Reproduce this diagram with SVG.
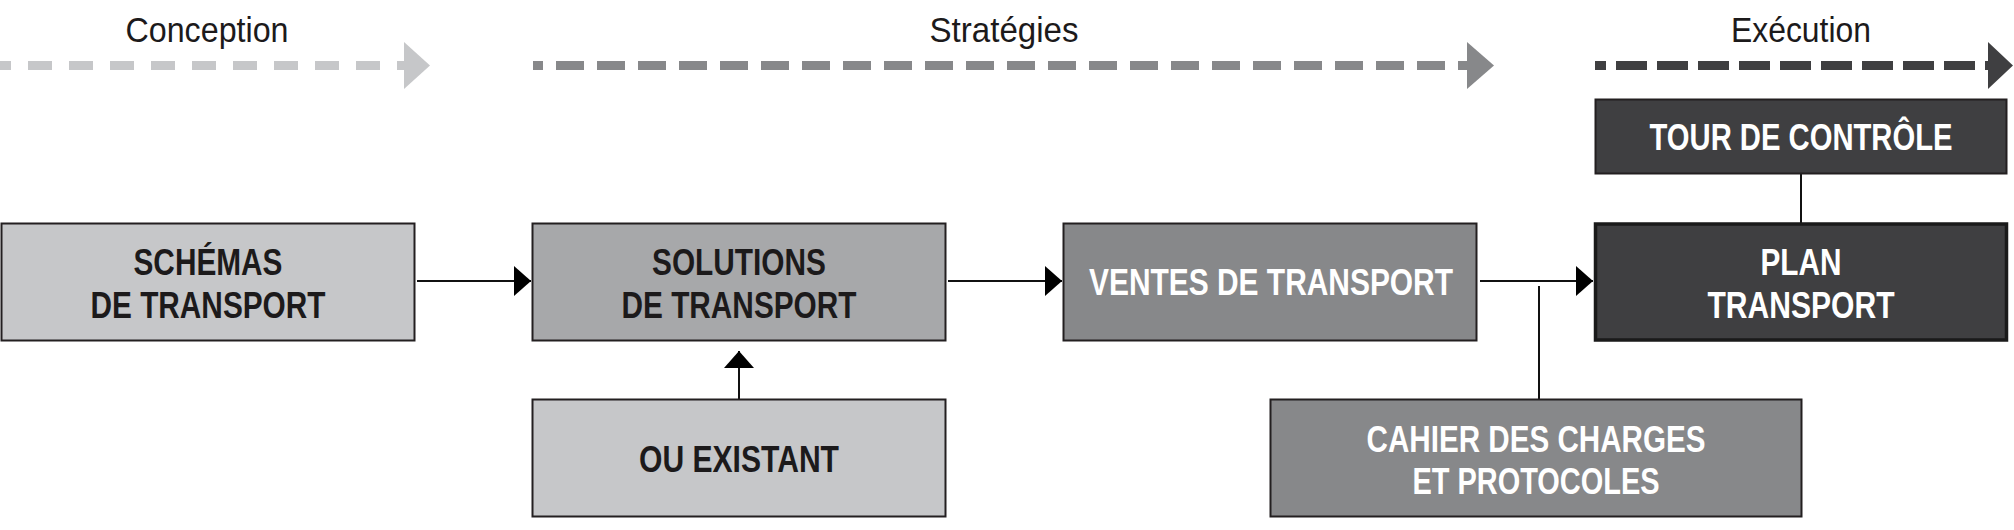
<svg xmlns="http://www.w3.org/2000/svg" width="2014" height="530" viewBox="0 0 2014 530">
<style>
.box{stroke:#231f20;stroke-width:2}
.lbl{font-family:"Liberation Sans",Arial,sans-serif;font-weight:bold;font-size:36px;text-anchor:middle}
.dk{fill:#1c1a1b}
.wt{fill:#ffffff}
.hdr{font-family:"Liberation Sans",Arial,sans-serif;font-size:35px;text-anchor:middle;fill:#1c1a1b}
.con{stroke:#111;stroke-width:2;fill:none}
.phase{stroke-width:9;fill:none}
</style>
<defs>
<marker id="ah" markerUnits="userSpaceOnUse" markerWidth="17" markerHeight="30" refX="17" refY="15" orient="auto" viewBox="0 0 17 30">
<path d="M0,0 L17,15 L0,30 Z" fill="#000"/>
</marker>
</defs>
<g id="phases">
<text class="hdr" x="207" y="42" textLength="163" lengthAdjust="spacingAndGlyphs">Conception</text>
<line class="phase" x1="0" y1="65.5" x2="404" y2="65.5" stroke="#c6c7c9" stroke-dasharray="24 17" stroke-dashoffset="13"/>
<polygon points="404,42 430,65.5 404,89" fill="#c6c7c9"/>
<text class="hdr" x="1004" y="42" textLength="149" lengthAdjust="spacingAndGlyphs">Stratégies</text>
<line class="phase" x1="533" y1="65.5" x2="1467" y2="65.5" stroke="#87888a" stroke-dasharray="28 13" stroke-dashoffset="18"/>
<polygon points="1467,42 1494,65.5 1467,89" fill="#87888a"/>
<text class="hdr" x="1801" y="42" textLength="140" lengthAdjust="spacingAndGlyphs">Exécution</text>
<line class="phase" x1="1595" y1="65.5" x2="1988" y2="65.5" stroke="#3f3f41" stroke-dasharray="31 10" stroke-dashoffset="20"/>
<polygon points="1988,42 2013,65.5 1988,89" fill="#3f3f41"/>
</g>
<g id="connectors">
<line class="con" x1="417" y1="281" x2="531" y2="281" marker-end="url(#ah)"/>
<line class="con" x1="948" y1="281" x2="1062" y2="281" marker-end="url(#ah)"/>
<line class="con" x1="1480" y1="281" x2="1593" y2="281" marker-end="url(#ah)"/>
<line class="con" x1="739" y1="399" x2="739" y2="351" marker-end="url(#ah)"/>
<line class="con" x1="1539" y1="286" x2="1539" y2="399"/>
<line class="con" x1="1801" y1="174" x2="1801" y2="223"/>
</g>
<g id="schemas">
<rect class="box" x="1.5" y="223.5" width="413" height="117" fill="#c6c7c9"/>
<text class="lbl dk" x="208" y="275" textLength="149" lengthAdjust="spacingAndGlyphs">SCHÉMAS</text>
<text class="lbl dk" x="208" y="318" textLength="235" lengthAdjust="spacingAndGlyphs">DE TRANSPORT</text>
</g>
<g id="solutions">
<rect class="box" x="532.5" y="223.5" width="413" height="117" fill="#a7a8aa"/>
<text class="lbl dk" x="739" y="275" textLength="174" lengthAdjust="spacingAndGlyphs">SOLUTIONS</text>
<text class="lbl dk" x="739" y="318" textLength="235" lengthAdjust="spacingAndGlyphs">DE TRANSPORT</text>
</g>
<g id="ventes">
<rect class="box" x="1063.5" y="223.5" width="413" height="117" fill="#87888a"/>
<text class="lbl wt" x="1271" y="295" textLength="364" lengthAdjust="spacingAndGlyphs">VENTES DE TRANSPORT</text>
</g>
<g id="plan">
<rect x="1595.5" y="224" width="411" height="116" fill="#3f3f41" stroke="#1a1a1a" stroke-width="3.5"/>
<text class="lbl wt" x="1801" y="275" textLength="81" lengthAdjust="spacingAndGlyphs">PLAN</text>
<text class="lbl wt" x="1801" y="318" textLength="187" lengthAdjust="spacingAndGlyphs">TRANSPORT</text>
</g>
<g id="tour">
<rect class="box" x="1595.5" y="99.5" width="411" height="74" fill="#3f3f41"/>
<text class="lbl wt" x="1801" y="150" font-size="35" textLength="303" lengthAdjust="spacingAndGlyphs">TOUR DE CONTRÔLE</text>
</g>
<g id="existant">
<rect class="box" x="532.5" y="399.5" width="413" height="117" fill="#c6c7c9"/>
<text class="lbl dk" x="739" y="472" textLength="200" lengthAdjust="spacingAndGlyphs">OU EXISTANT</text>
</g>
<g id="cahier">
<rect class="box" x="1270.5" y="399.5" width="531" height="117" fill="#87888a"/>
<text class="lbl wt" x="1536" y="452" textLength="339" lengthAdjust="spacingAndGlyphs">CAHIER DES CHARGES</text>
<text class="lbl wt" x="1536" y="494" textLength="247" lengthAdjust="spacingAndGlyphs">ET PROTOCOLES</text>
</g>
</svg>
